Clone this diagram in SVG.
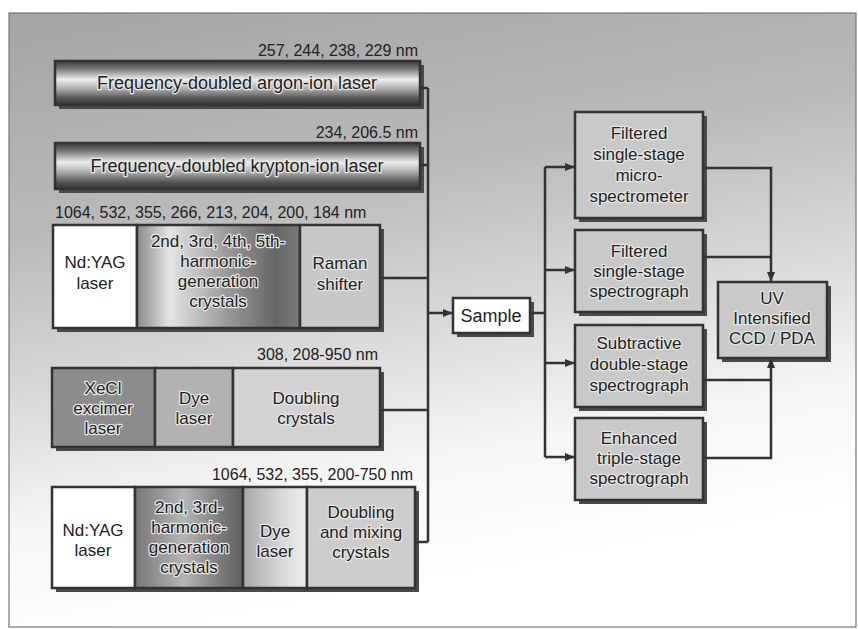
<svg xmlns="http://www.w3.org/2000/svg" width="858" height="629" viewBox="0 0 858 629">
<defs>
<linearGradient id="bg" x1="0" y1="0" x2="0.25" y2="1">
<stop offset="0" stop-color="#a4a4a4"/>
<stop offset="0.35" stop-color="#bababa"/>
<stop offset="0.6" stop-color="#dadada"/>
<stop offset="0.8" stop-color="#f6f6f6"/>
<stop offset="1" stop-color="#ffffff"/>
</linearGradient>
<linearGradient id="bar" x1="0" y1="0" x2="0" y2="1">
<stop offset="0" stop-color="#3a3a3a"/>
<stop offset="0.18" stop-color="#7a7a7a"/>
<stop offset="0.42" stop-color="#eeeeee"/>
<stop offset="0.62" stop-color="#b0b0b0"/>
<stop offset="0.85" stop-color="#555555"/>
<stop offset="1" stop-color="#333333"/>
</linearGradient>
<linearGradient id="harm1" x1="0" y1="0" x2="1" y2="0">
<stop offset="0" stop-color="#8a8a8a"/>
<stop offset="0.2" stop-color="#e4e4e4"/>
<stop offset="0.55" stop-color="#9a9a9a"/>
<stop offset="0.85" stop-color="#666666"/>
<stop offset="1" stop-color="#7a7a7a"/>
</linearGradient>
<linearGradient id="harm2" x1="0" y1="0" x2="1" y2="0">
<stop offset="0" stop-color="#777777"/>
<stop offset="0.45" stop-color="#b5b5b5"/>
<stop offset="0.8" stop-color="#7a7a7a"/>
<stop offset="1" stop-color="#5e5e5e"/>
</linearGradient>
<linearGradient id="dye2" x1="0" y1="0" x2="1" y2="0">
<stop offset="0" stop-color="#a8a8a8"/>
<stop offset="0.6" stop-color="#d8d8d8"/>
<stop offset="1" stop-color="#eeeeee"/>
</linearGradient>
<marker id="arr" markerWidth="10" markerHeight="8" refX="9" refY="4" orient="auto" markerUnits="userSpaceOnUse">
<path d="M0,0 L10,4 L0,8 Z" fill="#333"/>
</marker>
</defs>
<style>
.t{font-family:"Liberation Sans",Arial,sans-serif;fill:#222;}
.lbl{font-size:16px;}
.bar{font-size:18px;text-anchor:middle;}
.bx{font-size:17px;text-anchor:middle;}
.hl{paint-order:stroke;stroke:#e6e6e6;stroke-width:2.5px;stroke-linejoin:round;}
.cell{stroke:#333;stroke-width:2.5;}
.sh{fill:#4a4a4a;}
.wire{fill:none;stroke:#333;stroke-width:2.5;}
.spec{fill:#c9c9c9;stroke:#333;stroke-width:2.5;}
</style>

<rect x="0" y="0" width="858" height="629" fill="#ffffff"/>
<rect x="9" y="13" width="847" height="614" fill="url(#bg)" stroke="#777" stroke-width="1.2"/>

<g id="argon">
<rect class="sh" x="59" y="65" width="365" height="44"/>
<rect class="cell" x="55" y="61" width="365" height="44" fill="url(#bar)"/>
<text class="t bar hl" x="237" y="89">Frequency-doubled argon-ion laser</text>
<text class="t lbl" x="418" y="56" text-anchor="end">257, 244, 238, 229 nm</text>
</g>

<g id="krypton">
<rect class="sh" x="59" y="147" width="365" height="46"/>
<rect class="cell" x="55" y="143" width="365" height="46" fill="url(#bar)"/>
<text class="t bar hl" x="237" y="172">Frequency-doubled krypton-ion laser</text>
<text class="t lbl" x="418" y="138" text-anchor="end">234, 206.5 nm</text>
</g>

<g id="ndyag1">
<text class="t lbl" x="55" y="218">1064, 532, 355, 266, 213, 204, 200, 184 nm</text>
<rect class="sh" x="57" y="229" width="327" height="103"/>
<rect class="cell" x="53" y="225" width="84" height="103" fill="#ffffff"/>
<rect class="cell" x="137" y="225" width="163" height="103" fill="url(#harm1)"/>
<rect class="cell" x="300" y="225" width="80" height="103" fill="#c8c8c8"/>
<text class="t bx"><tspan x="95" y="268">Nd:YAG</tspan><tspan x="95" y="289">laser</tspan></text>
<text class="t bx hl"><tspan x="218" y="247">2nd, 3rd, 4th, 5th-</tspan><tspan x="218" y="267">harmonic-</tspan><tspan x="218" y="287">generation</tspan><tspan x="218" y="307">crystals</tspan></text>
<text class="t bx hl"><tspan x="340" y="269">Raman</tspan><tspan x="340" y="290">shifter</tspan></text>
</g>

<g id="xecl">
<text class="t lbl" x="378" y="360" text-anchor="end">308, 208-950 nm</text>
<rect class="sh" x="56" y="372" width="328" height="79"/>
<rect class="cell" x="52" y="368" width="103" height="79" fill="#8c8c8c"/>
<rect class="cell" x="155" y="368" width="78" height="79" fill="#b2b2b2"/>
<rect class="cell" x="233" y="368" width="147" height="79" fill="#d2d2d2"/>
<text class="t bx hl"><tspan x="103" y="394">XeCl</tspan><tspan x="103" y="414">excimer</tspan><tspan x="103" y="434">laser</tspan></text>
<text class="t bx hl"><tspan x="194" y="404">Dye</tspan><tspan x="194" y="424">laser</tspan></text>
<text class="t bx hl"><tspan x="306" y="404">Doubling</tspan><tspan x="306" y="424">crystals</tspan></text>
</g>

<g id="ndyag2">
<text class="t lbl" x="413" y="480" text-anchor="end">1064, 532, 355, 200-750 nm</text>
<rect class="sh" x="56" y="491" width="363" height="101"/>
<rect class="cell" x="52" y="487" width="83" height="101" fill="#ffffff"/>
<rect class="cell" x="135" y="487" width="108" height="101" fill="url(#harm2)"/>
<rect class="cell" x="243" y="487" width="64" height="101" fill="url(#dye2)"/>
<rect class="cell" x="307" y="487" width="108" height="101" fill="#cdcdcd"/>
<text class="t bx"><tspan x="93" y="536">Nd:YAG</tspan><tspan x="93" y="556">laser</tspan></text>
<text class="t bx hl"><tspan x="189" y="513">2nd, 3rd-</tspan><tspan x="189" y="533">harmonic-</tspan><tspan x="189" y="553">generation</tspan><tspan x="189" y="573">crystals</tspan></text>
<text class="t bx hl"><tspan x="275" y="537">Dye</tspan><tspan x="275" y="557">laser</tspan></text>
<text class="t bx hl"><tspan x="361" y="518">Doubling</tspan><tspan x="361" y="538">and mixing</tspan><tspan x="361" y="558">crystals</tspan></text>
</g>

<g id="sample">
<rect class="sh" x="457" y="302" width="77" height="35"/>
<rect x="453" y="298" width="77" height="35" fill="#ffffff" stroke="#333" stroke-width="2.5"/>
<text class="t bar" x="491" y="322">Sample</text>
</g>

<g id="spec1">
<rect class="sh" x="579" y="116" width="128" height="106"/>
<rect class="spec" x="575" y="112" width="128" height="106"/>
<text class="t bx hl"><tspan x="639" y="139">Filtered</tspan><tspan x="639" y="160">single-stage</tspan><tspan x="639" y="181">micro-</tspan><tspan x="639" y="202">spectrometer</tspan></text>
</g>

<g id="spec2">
<rect class="sh" x="579" y="234" width="128" height="82"/>
<rect class="spec" x="575" y="230" width="128" height="82"/>
<text class="t bx hl"><tspan x="639" y="257">Filtered</tspan><tspan x="639" y="277">single-stage</tspan><tspan x="639" y="297">spectrograph</tspan></text>
</g>

<g id="spec3">
<rect class="sh" x="579" y="329" width="128" height="82"/>
<rect class="spec" x="575" y="325" width="128" height="82"/>
<text class="t bx hl"><tspan x="639" y="349">Subtractive</tspan><tspan x="639" y="370">double-stage</tspan><tspan x="639" y="391">spectrograph</tspan></text>
</g>

<g id="spec4">
<rect class="sh" x="579" y="422" width="128" height="82"/>
<rect class="spec" x="575" y="418" width="128" height="82"/>
<text class="t bx hl"><tspan x="639" y="444">Enhanced</tspan><tspan x="639" y="464">triple-stage</tspan><tspan x="639" y="484">spectrograph</tspan></text>
</g>

<g id="detector">
<rect class="sh" x="722" y="286" width="109" height="76"/>
<rect class="spec" x="718" y="282" width="109" height="76"/>
<text class="t bx hl"><tspan x="772" y="304">UV</tspan><tspan x="772" y="324">Intensified</tspan><tspan x="772" y="344">CCD / PDA</tspan></text>
</g>

<g id="connectors">
<path class="wire" d="M420,88 H428 M420,165 H428 M380,278 H428 M380,410 H428 M415,542 H428 M428,88 V542"/>
<path class="wire" d="M428,313 H452" marker-end="url(#arr)"/>
<path class="wire" d="M530,313 H545 M545,167 V457"/>
<path class="wire" d="M545,167 H574" marker-end="url(#arr)"/>
<path class="wire" d="M545,270 H574" marker-end="url(#arr)"/>
<path class="wire" d="M545,363 H574" marker-end="url(#arr)"/>
<path class="wire" d="M545,457 H574" marker-end="url(#arr)"/>
<path class="wire" d="M703,257 H771"/>
<path class="wire" d="M703,168 H771 V281" marker-end="url(#arr)"/>
<path class="wire" d="M703,380 H771"/>
<path class="wire" d="M703,458 H771 V359" marker-end="url(#arr)"/>
</g>
</svg>
